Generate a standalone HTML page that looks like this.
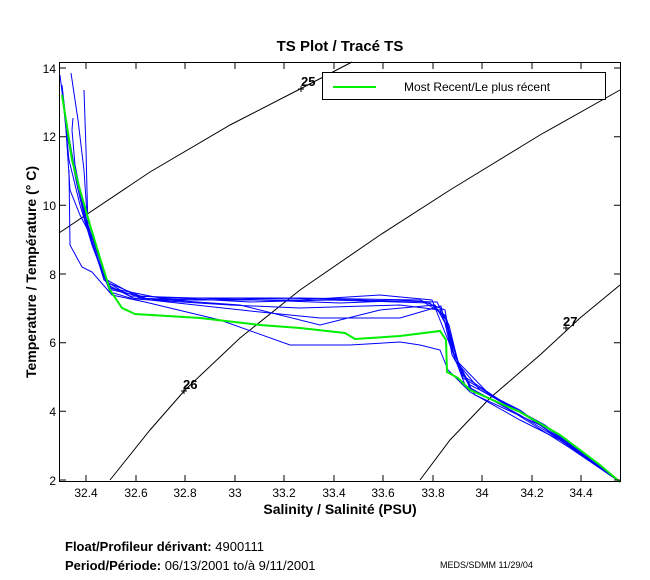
<!DOCTYPE html>
<html><head><meta charset="utf-8"><style>
body{margin:0;background:#fff;}
svg{display:block;font-family:"Liberation Sans",sans-serif;}
</style></head><body>
<svg width="650" height="580" viewBox="0 0 650 580" xmlns="http://www.w3.org/2000/svg">
<rect width="650" height="580" fill="#fff"/>
<text x="340" y="51" font-size="15" font-weight="bold" text-anchor="middle">TS Plot / Tracé TS</text>
<!-- density contours -->
<g fill="none" stroke="#000" stroke-width="1">
<path d="M59,233 L150,172 L230,125 L302,88 L352,62"/>
<path d="M110,480 L150,430 L185,390 L240,338 L300,290 L380,235 L450,190 L540,135 L620,90"/>
<path d="M420,480 L450,440 L490,398 L540,355 L580,318 L620,285"/>
</g>
<text x="301" y="86" font-size="13" font-weight="bold">25</text>
<text x="183" y="389" font-size="13" font-weight="bold">26</text>
<text x="563" y="326" font-size="13" font-weight="bold">27</text>
<g stroke="#000" stroke-width="1"><path d="M298,89h6M301,86v6M181,391h6M184,388v6M563,328h6M566,325v6"/></g>
<!-- blue profiles -->
<g fill="none" stroke="#0000ff" stroke-width="1">
<path d="M60,75 L63,100 L70,150 L80,190 L88,230 L100,265 L110,292 L130,298 L200,300 L300,298 L420,300 L445,310 L452,350 L470,385 L520,410 L560,440 L620,482"/>
<path d="M62,95 L68,140 L77,185 L85,220 L97,258 L112,290 L140,296 L250,302 L330,300 L430,303 L447,320 L455,360 L480,390 L530,418 L575,450 L620,482"/>
<path d="M71,73 L78,120 L84,170 L87,215 L95,245 L108,285 L135,299 L230,305 L300,308 L400,305 L440,310 L448,330 L462,375 L500,400 L550,430 L620,482"/>
<path d="M84,90 L86,150 L88,230 L94,250 L110,288 L150,300 L300,300 L380,295 L432,300 L448,340 L465,385 L510,410 L570,448 L620,482"/>
<path d="M69,170 L70,245 L82,267 L92,272 L112,295 L145,302 L220,320 L290,345 L350,345 L400,342 L420,345 L440,350 L448,370 L470,392 L520,420 L560,440 L620,482"/>
<path d="M66,130 L70,190 L80,215 L93,240 L107,280 L140,298 L240,305 L320,325 L380,310 L435,305 L449,330 L463,378 L520,412 L575,448 L620,482"/>
<path d="M73,118 L72,130 L75,165 L82,200 L90,235 L104,280 L130,296 L260,300 L340,303 L420,300 L445,315 L452,355 L475,395 L540,425 L620,482"/>
<path d="M62,85 L66,120 L74,165 L84,212 L96,250 L110,288 L160,298 L280,298 L360,300 L437,302 L449,325 L458,362 L490,395 L545,425 L620,482"/>
<path d="M64,110 L69,160 L80,205 L92,245 L106,282 L150,300 L260,312 L320,318 L400,318 L441,306 L450,345 L470,388 L520,415 L580,452 L620,482"/>
</g>
<!-- green -->
<path d="M62,95 L66,120 L72,160 L80,190 L90,225 L100,258 L110,290 L122,308 L135,314 L200,318 L260,325 L300,328 L345,333 L355,339 L400,336 L440,331 L446,340 L447,372 L458,378 L470,390 L520,412 L560,435 L600,465 L620,482" fill="none" stroke="#00ee00" stroke-width="2"/>
<!-- axes -->
<rect x="59.5" y="62.5" width="561" height="419" fill="none" stroke="#000" stroke-width="1"/>
<g stroke="#000" stroke-width="1">
<path d="M86,481v-6M136,481v-6M185,481v-6M235,481v-6M284,481v-6M334,481v-6M383,481v-6M433,481v-6M482,481v-6M532,481v-6M581,481v-6"/>
<path d="M86,63v6M136,63v6M185,63v6M235,63v6M284,63v6M334,63v6M383,63v6M433,63v6M482,63v6M532,63v6M581,63v6"/>
<path d="M60,480h6M60,411.3h6M60,342.7h6M60,274h6M60,205.3h6M60,136.7h6M60,68h6"/>
<path d="M620,480h-6M620,411.3h-6M620,342.7h-6M620,274h-6M620,205.3h-6M620,136.7h-6M620,68h-6"/>
</g>
<g font-size="12" text-anchor="end">
<text x="56" y="485">2</text><text x="56" y="416">4</text><text x="56" y="347">6</text><text x="56" y="279">8</text><text x="56" y="210">10</text><text x="56" y="141">12</text><text x="56" y="73">14</text>
</g>
<g font-size="12" text-anchor="middle">
<text x="86" y="497">32.4</text><text x="136" y="497">32.6</text><text x="185" y="497">32.8</text><text x="235" y="497">33</text><text x="284" y="497">33.2</text><text x="334" y="497">33.4</text><text x="383" y="497">33.6</text><text x="433" y="497">33.8</text><text x="482" y="497">34</text><text x="532" y="497">34.2</text><text x="581" y="497">34.4</text>
</g>
<text x="340" y="514" font-size="14" font-weight="bold" text-anchor="middle">Salinity / Salinité (PSU)</text>
<text transform="translate(36,272) rotate(-90)" font-size="14" font-weight="bold" text-anchor="middle">Temperature / Température (° C)</text>
<!-- legend -->
<rect x="322.5" y="72.5" width="283" height="27" fill="#fff" stroke="#000"/>
<line x1="333" y1="87" x2="376" y2="87" stroke="#00ee00" stroke-width="2"/>
<text x="404" y="91" font-size="12">Most Recent/Le plus récent</text>
<!-- footer -->
<text x="65" y="551" font-size="13"><tspan font-weight="bold">Float/Profileur dérivant:</tspan> 4900111</text>
<text x="65" y="570" font-size="13"><tspan font-weight="bold">Period/Période:</tspan> 06/13/2001  to/à  9/11/2001</text>
<text x="440" y="568" font-size="9">MEDS/SDMM  11/29/04</text>
</svg>
</body></html>
